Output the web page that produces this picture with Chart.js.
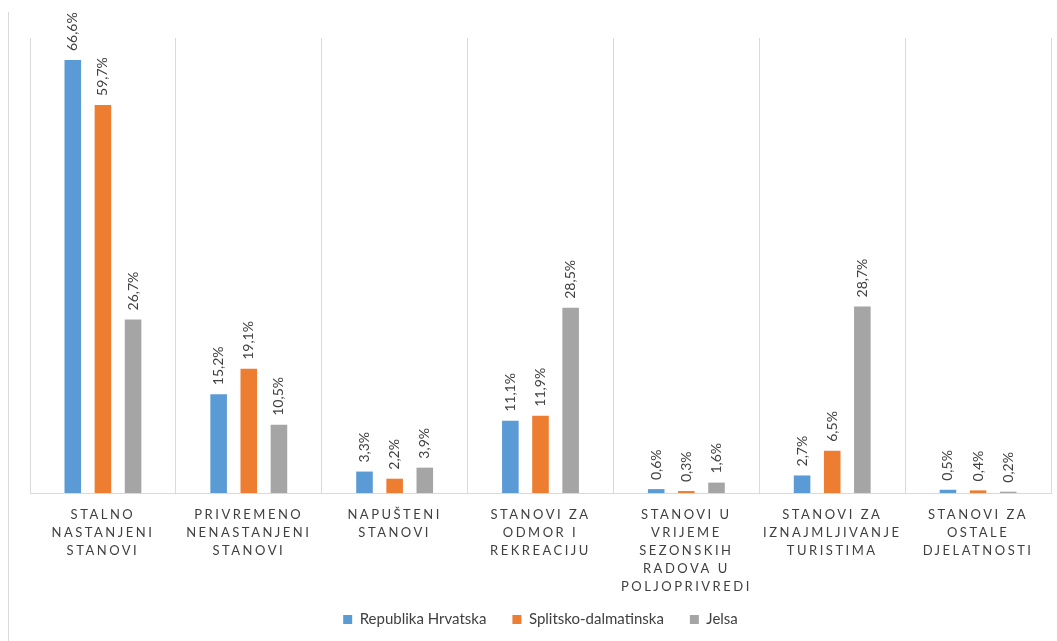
<!DOCTYPE html>
<html>
<head>
<meta charset="utf-8">
<script src="https://cdn.jsdelivr.net/npm/chart.js@4/dist/chart.umd.min.js"></script>
<style>
  body { margin: 0; background: #fff; }
  #wrap { position: relative; width: 1057px; height: 641px; }
  #rub { position: absolute; left: 8px; top: 12px; width: 1px; height: 629px; background: #d9d9d9; }
  canvas { position: absolute; left: 0; top: 0; }
</style>
</head>
<body>
<div id="wrap">
  <div id="rub"></div>
  <canvas id="grafico" width="1057" height="641"></canvas>
</div>
<script>
// kategorije stanova (višeredni nazivi)
const kategorije = [
    ['STALNO', 'NASTANJENI', 'STANOVI'],
    ['PRIVREMENO', 'NENASTANJENI', 'STANOVI'],
    ['NAPUŠTENI', 'STANOVI'],
    ['STANOVI ZA', 'ODMOR I', 'REKREACIJU'],
    ['STANOVI U', 'VRIJEME', 'SEZONSKIH', 'RADOVA U', 'POLJOPRIVREDI'],
    ['STANOVI ZA', 'IZNAJMLJIVANJE', 'TURISTIMA'],
    ['STANOVI ZA', 'OSTALE', 'DJELATNOSTI']
];

const republikaHrvatska = [66.6, 15.2, 3.3, 11.1, 0.6, 2.7, 0.5];
const splitskoDalmatinska = [59.7, 19.1, 2.2, 11.9, 0.3, 6.5, 0.4];
const jelsa = [26.7, 10.5, 3.9, 28.5, 1.6, 28.7, 0.2];

const nazivi = ['Republika Hrvatska', 'Splitsko-dalmatinska', 'Jelsa'];
const boje = ['#5b9bd5', '#ed7d31', '#a5a5a5'];

Chart.defaults.font.family = 'Lato, "Open Sans", sans-serif';
Chart.defaults.color = '#404040';

function formatPostotak(v) {
    return v.toFixed(1).replace('.', ',') + '%';
}

// oznake vrijednosti iznad stupaca, okrenute za 90 stupnjeva
const oznakePlugin = {
    id: 'oznake',
    afterDatasetsDraw(chart) {
        const ctx = chart.ctx;
        chart.data.datasets.forEach((ds, i) => {
            chart.getDatasetMeta(i).data.forEach((bar, j) => {
                ctx.save();
                ctx.translate(bar.x, bar.y - 9);
                ctx.rotate(-Math.PI / 2);
                ctx.font = '14px Lato, "Open Sans", sans-serif';
                ctx.fillStyle = '#404040';
                ctx.textAlign = 'left';
                ctx.textBaseline = 'middle';
                ctx.fillText(formatPostotak(ds.data[j]), 0, 0);
                ctx.restore();
            });
        });
    }
};

// razmak između slova u nazivima kategorija, bez rezanja zadnjeg reda
const razmakPlugin = {
    id: 'razmak',
    afterUpdate(chart) {
        const s = chart.scales.x;
        if (s && !s._razmak) {
            const orig = s.drawLabels;
            s._computeLabelArea = () => undefined;
            s.drawLabels = function (area) {
                const c = this.ctx;
                c.save();
                c.letterSpacing = '2.5px';
                orig.call(this, area);
                c.restore();
            };
            s._razmak = true;
        }
    }
};

const podaci = [republikaHrvatska, splitskoDalmatinska, jelsa];

new Chart(document.getElementById('grafico'), {
    type: 'bar',
    data: {
        labels: kategorije,
        datasets: podaci.map((d, i) => ({
            label: nazivi[i],
            data: d,
            backgroundColor: boje[i],
            categoryPercentage: 0.62,
            barPercentage: 0.55
        }))
    },
    options: {
        responsive: false,
        animation: false,
        layout: { padding: { left: 30, right: 6, top: 38, bottom: 4 } },
        scales: {
            x: {
                grid: { color: '#d9d9d9', offset: true, drawTicks: false },
                border: { color: '#d9d9d9' },
                ticks: {
                    font: { size: 13, lineHeight: 1.38 },
                    color: '#404040',
                    padding: 13,
                    maxRotation: 0,
                    autoSkip: false
                },
                afterFit(scale) { scale.height = 93; }
            },
            y: {
                display: false,
                min: 0,
                max: 70
            }
        },
        plugins: {
            legend: {
                position: 'bottom',
                labels: {
                    boxWidth: 9,
                    boxHeight: 9,
                    padding: 26,
                    font: { size: 15 },
                    color: '#404040'
                }
            },
            tooltip: { enabled: false }
        }
    },
    plugins: [oznakePlugin, razmakPlugin]
});
</script>
</body>
</html>
